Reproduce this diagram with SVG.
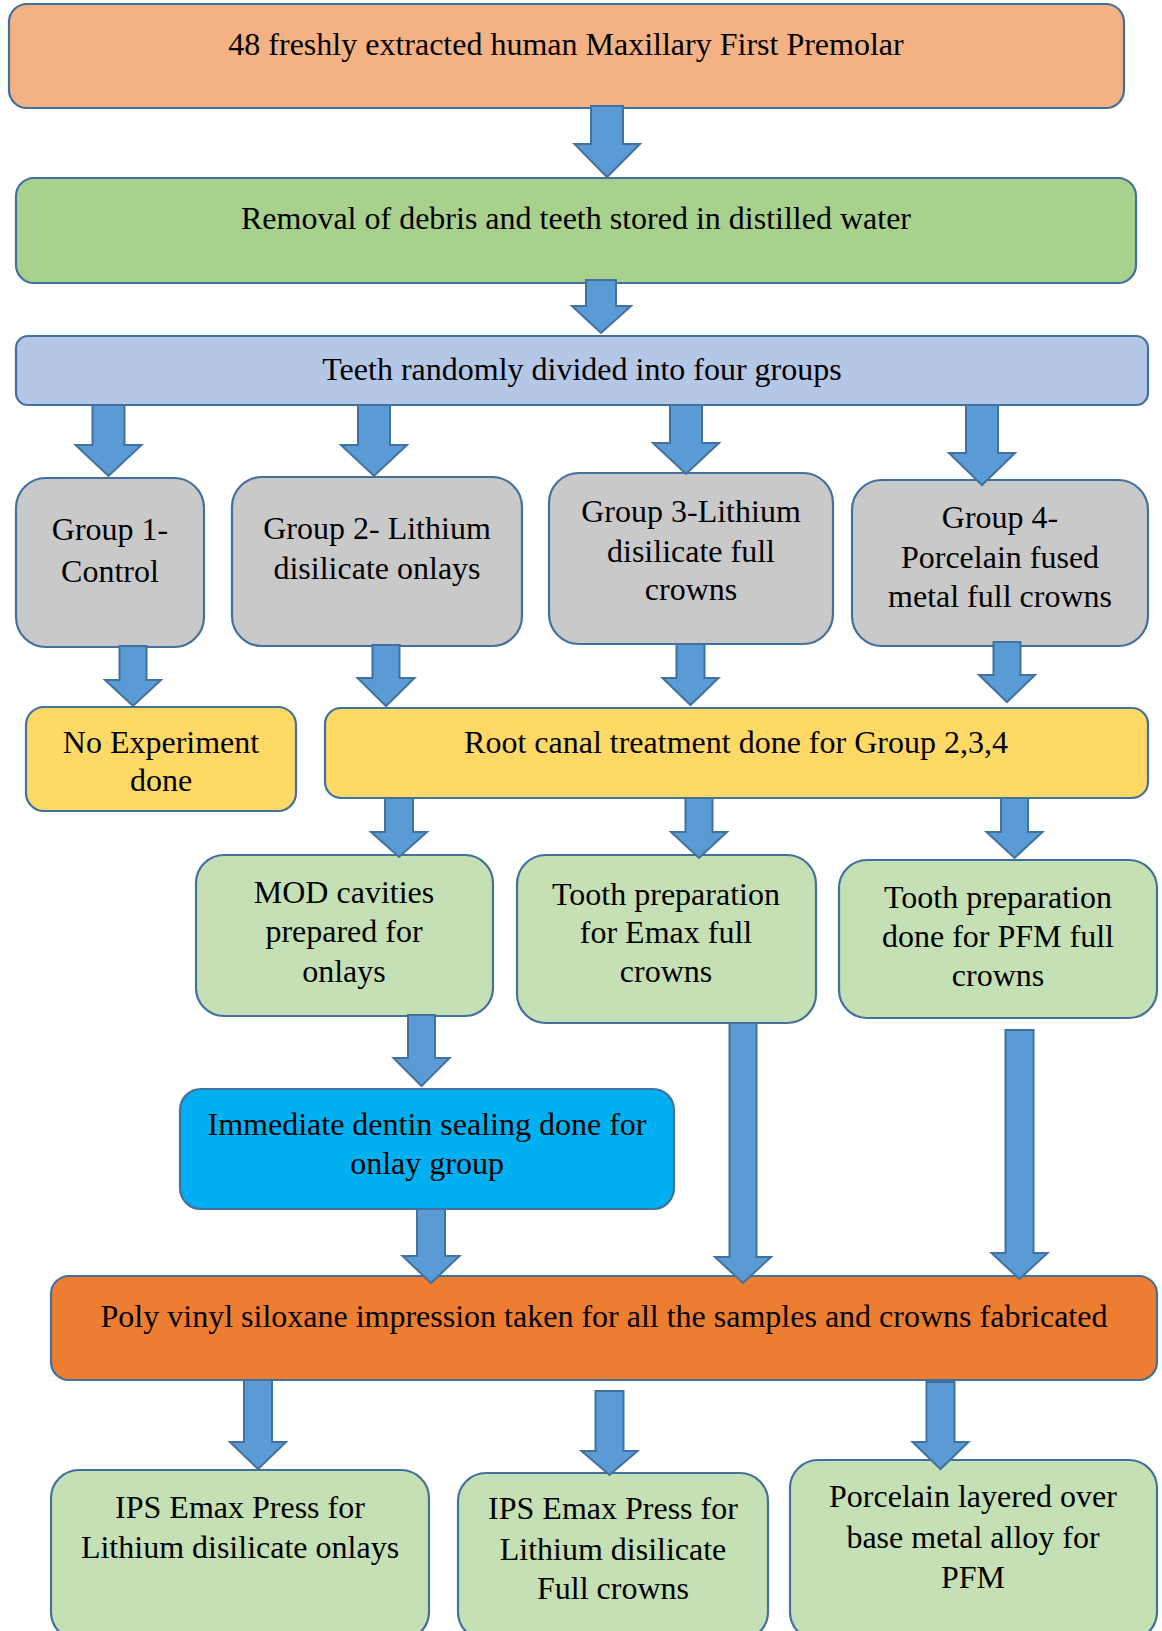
<svg xmlns="http://www.w3.org/2000/svg" width="1162" height="1631" viewBox="0 0 1162 1631">
<style>
.n{stroke:#41719C;stroke-width:2.2}
.t{font-family:"Liberation Serif","Times New Roman",serif;font-size:32px;fill:#000;text-anchor:middle}
.a{fill:#5B9BD5;stroke:#41719C;stroke-width:2;stroke-linejoin:miter}
</style>
<rect width="1162" height="1631" fill="#fff"/>
<g id="n1"><rect class="n" x="9" y="4" width="1115" height="104" rx="18" fill="#F4B183"/><text class="t" x="566" y="55">48 freshly extracted human Maxillary First Premolar</text></g>
<g id="n2"><rect class="n" x="16" y="178" width="1120" height="105" rx="18" fill="#A9D18E"/><text class="t" x="576" y="229">Removal of debris and teeth stored in distilled water</text></g>
<g id="n3"><rect class="n" x="16" y="336" width="1132" height="69" rx="12" fill="#B4C7E7"/><text class="t" x="582" y="380">Teeth randomly divided into four groups</text></g>
<g id="g1"><rect class="n" x="16" y="478" width="188" height="169" rx="30" fill="#C9C9C9"/><text class="t" x="110" y="540">Group 1-</text><text class="t" x="110" y="582">Control</text></g>
<g id="g2"><rect class="n" x="232" y="477" width="290" height="169" rx="30" fill="#C9C9C9"/><text class="t" x="377" y="539">Group 2- Lithium</text><text class="t" x="377" y="579">disilicate onlays</text></g>
<g id="g3"><rect class="n" x="549" y="473" width="284" height="171" rx="30" fill="#C9C9C9"/><text class="t" x="691" y="522">Group 3-Lithium</text><text class="t" x="691" y="562">disilicate full</text><text class="t" x="691" y="600">crowns</text></g>
<g id="g4"><rect class="n" x="852" y="480" width="296" height="166" rx="30" fill="#C9C9C9"/><text class="t" x="1000" y="528">Group 4-</text><text class="t" x="1000" y="568">Porcelain fused</text><text class="t" x="1000" y="607">metal full crowns</text></g>
<g id="ne"><rect class="n" x="26" y="707" width="270" height="104" rx="18" fill="#FFD966"/><text class="t" x="161" y="753">No Experiment</text><text class="t" x="161" y="791">done</text></g>
<g id="rct"><rect class="n" x="325" y="708" width="823" height="90" rx="16" fill="#FFD966"/><text class="t" x="736" y="753">Root canal treatment done for Group 2,3,4</text></g>
<g id="mod"><rect class="n" x="196" y="855" width="297" height="161" rx="28" fill="#C5E0B4"/><text class="t" x="344" y="903">MOD cavities</text><text class="t" x="344" y="942">prepared for</text><text class="t" x="344" y="982">onlays</text></g>
<g id="emax"><rect class="n" x="517" y="855" width="299" height="168" rx="29" fill="#C5E0B4"/><text class="t" x="666" y="905">Tooth preparation</text><text class="t" x="666" y="943">for Emax full</text><text class="t" x="666" y="982">crowns</text></g>
<g id="pfm"><rect class="n" x="839" y="860" width="318" height="158" rx="28" fill="#C5E0B4"/><text class="t" x="998" y="908">Tooth preparation</text><text class="t" x="998" y="947">done for PFM full</text><text class="t" x="998" y="986">crowns</text></g>
<g id="ids"><rect class="n" x="180" y="1089" width="494" height="120" rx="21" fill="#00B0F0"/><text class="t" x="427" y="1135">Immediate dentin sealing done for</text><text class="t" x="427" y="1174">onlay group</text></g>
<g id="pvs"><rect class="n" x="51" y="1276" width="1106" height="104" rx="18" fill="#ED7D31"/><text class="t" x="604" y="1327">Poly vinyl siloxane impression taken for all the samples and crowns fabricated</text></g>
<g id="ips1"><rect class="n" x="51" y="1470" width="378" height="170" rx="28" fill="#C5E0B4"/><text class="t" x="240" y="1518">IPS Emax Press for</text><text class="t" x="240" y="1558">Lithium disilicate onlays</text></g>
<g id="ips2"><rect class="n" x="458" y="1473" width="310" height="167" rx="28" fill="#C5E0B4"/><text class="t" x="613" y="1519">IPS Emax Press for</text><text class="t" x="613" y="1560">Lithium disilicate</text><text class="t" x="613" y="1599">Full crowns</text></g>
<g id="porc"><rect class="n" x="790" y="1460" width="367" height="180" rx="28" fill="#C5E0B4"/><text class="t" x="973" y="1507">Porcelain layered over</text><text class="t" x="973" y="1548">base metal alloy for</text><text class="t" x="973" y="1588">PFM</text></g>
<g id="connectors">
<path class="a" d="M591,106V144H574.5L607,177L640,144H623V106Z"/>
<path class="a" d="M586,280V306H572L601,333L631,306H616V280Z"/>
<path class="a" d="M92.5,405V445H75.5L108.5,476L141.5,445H124.5V405Z"/>
<path class="a" d="M358,405V445H341L374,476L407,445H390V405Z"/>
<path class="a" d="M670,405V443H653L686,474L719,443H702V405Z"/>
<path class="a" d="M966,405V453H949L982,485L1015,453H998V405Z"/>
<path class="a" d="M119.5,646V680H105L133,706L161,680H146.5V646Z"/>
<path class="a" d="M372.5,645V678H357.5L386,706L414.5,678H399.5V645Z"/>
<path class="a" d="M676.5,644V678H662.5L690.5,705L718.5,678H704.5V644Z"/>
<path class="a" d="M993.5,642V675H979L1007,702L1035,675H1020.5V642Z"/>
<path class="a" d="M385,798V832H371L399,857L427,832H413V798Z"/>
<path class="a" d="M685.5,798V832H671L699,858L727,832H712.5V798Z"/>
<path class="a" d="M1001,798V832H986.5L1014.5,858L1042.5,832H1028V798Z"/>
<path class="a" d="M408,1015V1058H393.5L421.5,1086L449.5,1058H435V1015Z"/>
<path class="a" d="M417,1209V1256H402.5L431,1283L459.5,1256H445V1209Z"/>
<path class="a" d="M729.5,1023V1257H715L743,1283L771,1257H756.5V1023Z"/>
<path class="a" d="M1005.5,1030V1253H991.5L1019.5,1279L1047.5,1253H1033.5V1030Z"/>
<path class="a" d="M244,1380V1442H230L258,1469L286,1442H272V1380Z"/>
<path class="a" d="M595.5,1391V1451H581.5L609.5,1475L637.5,1451H623.5V1391Z"/>
<path class="a" d="M926.5,1382V1442H912.5L940.5,1469L968.5,1442H954.5V1382Z"/>
</g>
</svg>
